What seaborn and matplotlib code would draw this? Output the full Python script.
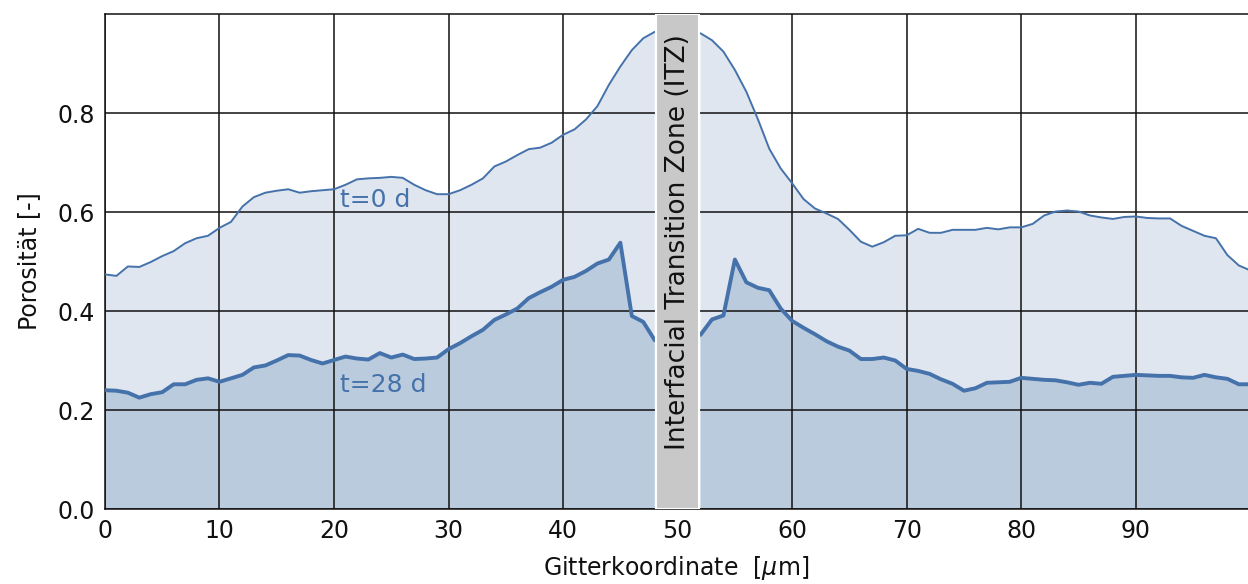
import numpy as np
import pandas as pd
import matplotlib
matplotlib.use("Agg")
import matplotlib.pyplot as plt
import seaborn as sns

# Gitterkoordinate in um (integer grid points)
positions = np.arange(0, 101)

# porosity at t=0 d (values inside the ITZ band are hidden -> nan)
porosity_t0 = [
    0.474, 0.471, 0.490, 0.489, 0.499, 0.511, 0.521, 0.537, 0.547, 0.552,
    0.568, 0.580, 0.611, 0.630, 0.639, 0.643, 0.646, 0.639, 0.642, 0.644,
    0.646, 0.655, 0.666, 0.668, 0.669, 0.671, 0.669, 0.655, 0.644, 0.636,
    0.636, 0.644, 0.655, 0.668, 0.692, 0.702, 0.715, 0.727, 0.730, 0.740,
    0.756, 0.767, 0.787, 0.814, 0.857, 0.894, 0.927, 0.951, 0.964, np.nan,
    np.nan, np.nan, 0.961, 0.947, 0.924, 0.887, 0.843, 0.788, 0.728, 0.688,
    0.658, 0.626, 0.607, 0.597, 0.586, 0.564, 0.540, 0.530, 0.539, 0.552,
    0.553, 0.566, 0.558, 0.558, 0.564, 0.564, 0.564, 0.568, 0.565, 0.569,
    0.569, 0.576, 0.593, 0.601, 0.603, 0.601, 0.593, 0.589, 0.586, 0.590,
    0.591, 0.588, 0.587, 0.587, 0.572, 0.562, 0.552, 0.547, 0.513, 0.492,
    0.482,
]

# porosity at t=28 d
porosity_t28 = [
    0.240, 0.239, 0.235, 0.225, 0.232, 0.236, 0.252, 0.252, 0.261, 0.264,
    0.257, 0.264, 0.271, 0.286, 0.290, 0.300, 0.311, 0.310, 0.301, 0.294,
    0.301, 0.308, 0.304, 0.302, 0.315, 0.306, 0.312, 0.303, 0.304, 0.306,
    0.323, 0.335, 0.349, 0.362, 0.382, 0.393, 0.405, 0.426, 0.438, 0.449,
    0.463, 0.469, 0.481, 0.496, 0.504, 0.538, 0.390, 0.378, 0.341, np.nan,
    np.nan, np.nan, 0.352, 0.383, 0.391, 0.504, 0.458, 0.447, 0.442, 0.405,
    0.380, 0.366, 0.353, 0.339, 0.328, 0.320, 0.303, 0.303, 0.306, 0.300,
    0.283, 0.279, 0.273, 0.262, 0.253, 0.239, 0.244, 0.255, 0.256, 0.257,
    0.265, 0.263, 0.261, 0.260, 0.256, 0.251, 0.255, 0.253, 0.267, 0.269,
    0.271, 0.270, 0.269, 0.269, 0.266, 0.265, 0.271, 0.266, 0.263, 0.252,
    0.252,
]

itz_range = (48.1, 51.9)
xticks = [0, 10, 20, 30, 40, 50, 60, 70, 80, 90]
yticks = [0.0, 0.2, 0.4, 0.6, 0.8]

df = pd.DataFrame({"x": positions, "t0": porosity_t0, "t28": porosity_t28})

sns.set_style("whitegrid")
plt.rcParams["font.family"] = ["DejaVu Sans"]
plt.rcParams["mathtext.fontset"] = "dejavusans"

line_color = "#4572aa"
ink = "#111111"

fig, ax = plt.subplots(figsize=(12.48, 5.84), dpi=100)
fig.subplots_adjust(left=0.0841, right=1.0, bottom=0.1284, top=0.976)

# filled areas
ax.fill_between(df["x"], 0, df["t0"], color="#dfe6f0", lw=0, zorder=1)
ax.fill_between(df["x"], 0, df["t28"], color="#bacbdd", lw=0, zorder=1.5)

# lines
sns.lineplot(data=df, x="x", y="t0", ax=ax, color=line_color, lw=1.4, zorder=3)
sns.lineplot(data=df, x="x", y="t28", ax=ax, color=line_color, lw=2.8, zorder=3)

# ITZ band
ax.axvspan(itz_range[0], itz_range[1], facecolor="#c8c8c8", edgecolor="white",
           lw=1.5, zorder=5)
ax.text(sum(itz_range) / 2, 0.54, "Interfacial Transition Zone (ITZ)", rotation=90,
        ha="center", va="center", fontsize=19, color=ink, zorder=6)

# curve labels
ax.text(20.5, 0.625, "t=0 d", fontsize=18, color=line_color, ha="left", va="center", zorder=4)
ax.text(20.5, 0.250, "t=28 d", fontsize=18, color=line_color, ha="left", va="center", zorder=4)

ax.set_xlim(0, 99.8)
ax.set_ylim(0, 1.0)
ax.set_xticks(xticks)
ax.set_yticks(yticks)
ax.tick_params(labelsize=17, colors=ink, length=0, pad=7)
ax.grid(True, color=ink, lw=1.1, zorder=2)
ax.set_axisbelow(False)
for side in ["left", "top", "bottom"]:
    ax.spines[side].set_color(ink)
    ax.spines[side].set_linewidth(1.1)
ax.spines["right"].set_visible(False)

ax.set_xlabel(r"Gitterkoordinate  [$\mu$m]", fontsize=17, color=ink, labelpad=8)
ax.set_ylabel("Porosität [-]", fontsize=17, color=ink, labelpad=12)

fig.savefig("out.png", dpi=100)
